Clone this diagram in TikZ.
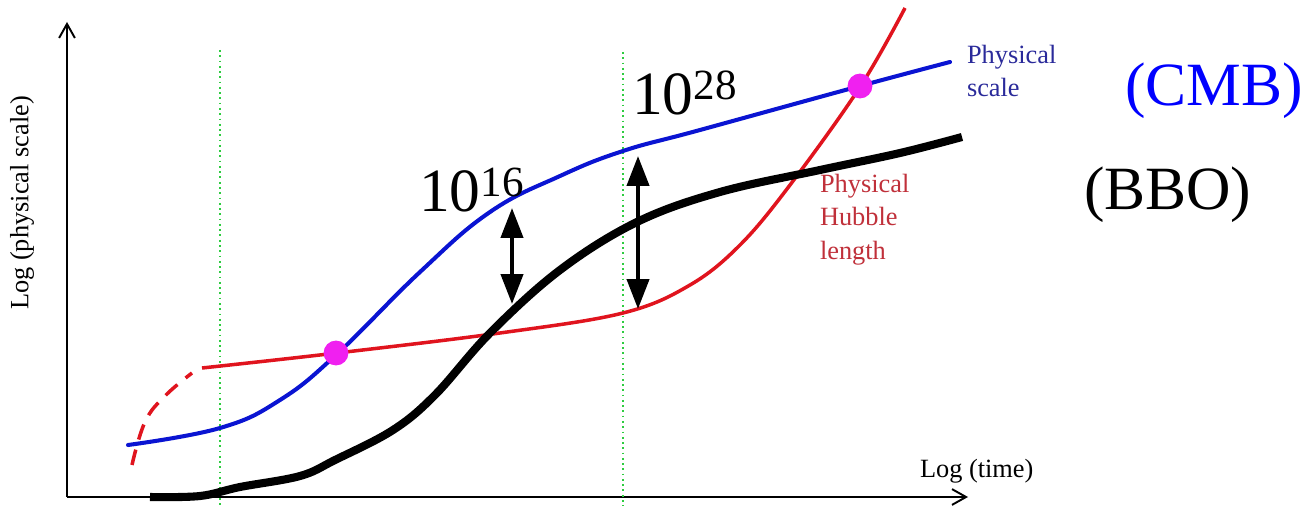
\documentclass[tikz,border=0pt]{standalone}
\usepackage{fontspec}
\setmainfont{Liberation Serif}
\usepackage{tikz}
\usetikzlibrary{arrows.meta, positioning}
\definecolor{scaleblue}{HTML}{0A14D2}
\definecolor{hubblered}{HTML}{E0141E}
\definecolor{guidegreen}{HTML}{2ECC40}
\definecolor{crosspink}{HTML}{F020F0}
\definecolor{labelblue}{HTML}{2A2A9A}
\definecolor{labelred}{HTML}{C0303A}

\begin{document}
\begin{tikzpicture}[
    x=0.02cm, y=-0.02cm,
    every node/.style={inner sep=0pt, outer sep=0pt},
    axis/.style={line width=1.1pt, -{Straight Barb[length=8pt, width=9pt, line width=1.1pt]}},
    guide/.style={guidegreen, dotted, line width=1pt},
    physline/.style={scaleblue, line width=2.3pt, line cap=round},
    hubline/.style={hubblered, line width=2pt},
    gwline/.style={black, line width=4.6pt},
    gap/.style={{Triangle[length=17pt, width=12.5pt]}-{Triangle[length=17pt, width=12.5pt]}, line width=2.3pt},
    crossing/.style={circle, fill=crosspink, inner sep=5pt},
    biglab/.style={font=\fontsize{35}{40}\selectfont, anchor=base west},
    smalllab/.style={font=\fontsize{15}{19}\selectfont, align=left, anchor=base west}
]
\useasboundingbox (0,0) rectangle (1310,506);

% Axes
\coordinate (origin) at (67,497);
\coordinate (ytip)   at (67,22);
\coordinate (xtip)   at (968,497);
\draw[axis] (origin) -- (ytip);
\draw[axis] (origin) -- (xtip);
\node[smalllab, anchor=center, rotate=90] (ylab) at (22,203) {Log (physical scale)};
\node[smalllab] (xlab) at (920,477) {Log (time)};

% Guide lines
\draw[guide] (220,50) -- (220,506);
\draw[guide] (623,52) -- (623,506);

% Hubble length
\draw[hubline, dash pattern=on 9pt off 6pt]
    plot[smooth, tension=0.7] coordinates {(132,465) (145,422) (165,396) (192,373)};
\draw[hubline]
    plot[smooth, tension=0.6] coordinates {(202,368) (337,353) (500,333)
        (623,313) (690,285) (740,245) (790,185) (860,87) (905,8)};

% Physical scale
\draw[physline]
    plot[smooth, tension=0.7] coordinates {(128,445) (220,428) (280,400) (337,354)
        (420,272) (490,212) (560,176) (623,151) (700,130) (860,86) (950,62)};

% BBO scale
\draw[gwline]
    plot[smooth, tension=0.6] coordinates {(150,497) (200,496) (240,487) (300,476)
        (335,460) (393,430) (435,395) (490,333) (560,270) (637,222)
        (720,192) (820,170) (900,153) (962,137)};

% Crossings
\node[crossing] (cross1) at (336,353) {};
\node[crossing] (cross2) at (860,86) {};

% Ratios
\coordinate (g1top) at (512,208);
\coordinate (g1bot) at (512,304);
\coordinate (g2top) at (638,156);
\coordinate (g2bot) at (638,309);
\draw[gap] (g1top) -- (g1bot);
\draw[gap] (g2top) -- (g2bot);
\node[biglab] (r16) at (419,212) {10\textsuperscript{16}};
\node[biglab] (r28) at (632,115) {10\textsuperscript{28}};

% Labels
\node[smalllab, text=labelblue] (physlab) at (967,97) {Physical\\scale};
\node[smalllab, text=labelred] (hublab) at (820,259) {Physical\\Hubble\\length};
\node[biglab, text=blue] (cmb) at (1125,106) {(CMB)};
\node[biglab] (bbo) at (1084,210) {(BBO)};
\end{tikzpicture}
\end{document}
